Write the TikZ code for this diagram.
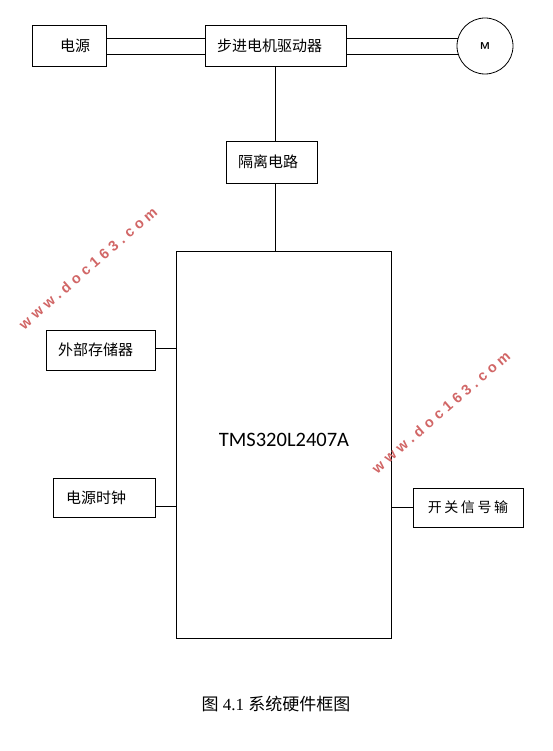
\documentclass[tikz,border=0pt]{standalone}
\usepackage{fontspec}
\setmainfont{Liberation Serif}
\newfontfamily\cjk{Noto Sans CJK SC}
\newfontfamily\cali{Carlito}
\newfontfamily\wmfont[LetterSpace=30]{Liberation Sans}
\newfontfamily\spaced[LetterSpace=18]{Noto Sans CJK SC}
\usepackage{tikz}

\tikzset{
    box/.style={draw, line width=0.9pt, inner sep=0pt, align=left, font=\cjk\fontsize{15}{17}\selectfont},
    wire/.style={line width=0.9pt},
    mark163/.style={rotate=41, text=red!70!black!60!white, font=\wmfont\bfseries\fontsize{14.5}{16}\selectfont}
}

\begin{document}
\begin{tikzpicture}[x=1pt, y=-1pt]
        \useasboundingbox (0,0) rectangle (552,751);

        \node[box, minimum width=74pt, minimum height=41pt, text width=18pt] (power) at (69,46) {电源};
        \node[box, minimum width=141pt, minimum height=41pt, text width=117pt] (driver) at (275.5,46) {步进电机驱动器};
        \node[circle, draw, line width=0.8pt, minimum size=56pt, inner sep=0pt, font=\sffamily\bfseries\fontsize{10}{12}\selectfont] (motor) at (485,46) {M};
        \node[box, minimum width=91pt, minimum height=42pt, text width=67pt] (isolate) at (271.5,162) {隔离电路};
        \node[box, minimum width=215pt, minimum height=387pt] (dsp) at (283.5,444.5) {};
        \node[font=\cali\fontsize{20.5}{24}\selectfont] (chip) at (284,440) {TMS320L2407A};
        \node[box, minimum width=109pt, minimum height=40pt, text width=85pt] (memory) at (100.5,350) {外部存储器};
        \node[box, minimum width=102pt, minimum height=39pt, text width=76pt] (clock) at (104,497.5) {电源时钟};
        \node[box, minimum width=110pt, minimum height=39pt, align=center, font=\spaced\fontsize{14}{16}\selectfont] (switch) at (468,507.5) {开关信号输};

        \draw[wire] ([yshift=8pt]power.east) -- ([yshift=8pt]driver.west);
        \draw[wire] ([yshift=-8pt]power.east) -- ([yshift=-8pt]driver.west);
        \draw[wire] ([yshift=8pt]driver.east) -- ([yshift=8pt,xshift=1.2pt]driver.east -| motor.west);
        \draw[wire] ([yshift=-8pt]driver.east) -- ([yshift=-8pt,xshift=1.2pt]driver.east -| motor.west);
        \draw[wire] (driver.south) -- (driver.south |- isolate.north);
        \draw[wire] (isolate.south -| driver.south) -- (dsp.north -| driver.south);
        \draw[wire] (memory.east |- 0,348) -- (dsp.west |- 0,348);
        \draw[wire] (clock.east |- 0,506) -- (dsp.west |- 0,506);
        \draw[wire] (switch) -- (dsp.east |- switch);

        % watermark
        \node[mark163] (mark1) at (88,268) {www.doc163.com};
        \node[mark163] (mark2) at (441,412) {www.doc163.com};

        \node[font=\fontsize{17}{20}\selectfont] (caption) at (276,704) {{\cjk 图} 4.1 {\cjk 系统硬件框图}};
    \end{tikzpicture}
\end{document}
